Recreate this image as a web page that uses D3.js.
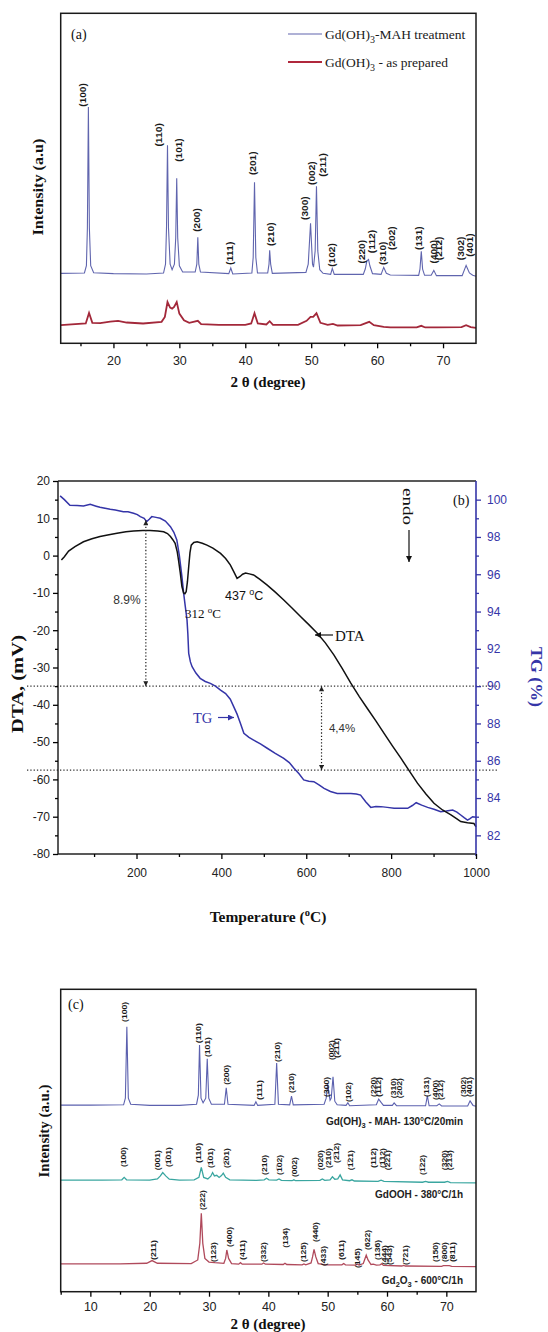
<!DOCTYPE html>
<html><head><meta charset="utf-8">
<script src="https://cdn.jsdelivr.net/npm/d3@7"></script>
<style>body{margin:0;background:#fff}svg{display:block}</style>
</head><body>
<svg id="c" width="548" height="1332"></svg>
<script>
// ---------------- DATA ----------------
// Panel (a): XRD, [2theta, intensity a.u.]
const xrdA_MAH = [[12,21.2],[15.6,21.3],[15.9,23.5],[16.05,35],[16.2,71.6],[16.35,35],[16.55,23.5],[17,21.4],[20,21.1],[25,21.0],[27.6,21.3],[27.9,24],[28.05,35],[28.2,60],[28.35,35],[28.6,24],[28.9,22.3],[29.25,24],[29.45,32],[29.6,50],[29.75,32],[30.0,23.5],[30.5,21.6],[32.4,21.6],[32.65,24],[32.8,32.1],[32.95,24],[33.2,21.6],[37.5,21.1],[37.8,22.8],[38.1,21.0],[41.0,21.3],[41.2,26],[41.4,48.8],[41.6,26],[41.85,21.3],[43.4,21.3],[43.6,24],[43.7,28.2],[43.85,24],[44.1,21.2],[49.2,21.5],[49.55,24],[49.9,36.4],[50.2,24],[50.35,23.1],[50.6,28],[50.8,47.6],[51.0,28],[51.3,22.3],[51.8,21.2],[52.95,20.9],[53.2,22.7],[53.5,20.9],[57.9,20.9],[58.2,22.5],[58.45,25.0],[58.7,25.4],[58.9,23.5],[59.3,21.1],[60.6,20.9],[61.0,23.0],[61.4,21.2],[62,20.7],[66.3,20.6],[66.5,22.5],[66.7,27.9],[66.9,22.5],[67.2,20.6],[68.2,20.6],[68.6,22.1],[69.0,20.5],[72.9,20.5],[73.5,23.6],[74.0,21.3],[74.5,20.6],[75,20.3]];
const xrdA_prep = [[12,5.5],[15.8,6.0],[16.3,9.2],[16.8,6.2],[18,6.1],[19.5,6.6],[20.7,6.8],[22,6.3],[24.5,6.0],[27.3,6.5],[27.8,8],[28.2,12.5],[28.6,10.8],[28.9,10.5],[29.2,11],[29.6,12.5],[30.0,9],[30.7,7.0],[31.5,6.2],[32.8,6.8],[33.3,5.8],[36,5.6],[40,5.6],[40.9,6.0],[41.4,9.1],[41.9,6],[43.2,5.7],[43.7,6.7],[44.2,5.6],[48,5.6],[49.3,6.8],[49.9,8.0],[50.3,8.0],[50.8,9.1],[51.4,6.2],[52.5,5.6],[53.3,5.9],[54,5.4],[57.5,5.5],[58.8,6.5],[59.5,5.5],[61,5.0],[62,4.8],[66,4.8],[66.7,5.3],[67.3,4.8],[69,4.8],[72.8,4.9],[73.5,5.5],[74.2,4.9],[75,4.7]];
const labelsA = [["(100)",15.38,71.7],["(110)",26.9,59.6],["(101)",29.92,55.0],["(200)",32.6,33.8],["(111)",37.65,23.7],["(201)",41.2,51.0],["(210)",43.81,29.5],["(300)",49.0,37.4],["(002)",50.03,48.0],["(211)",51.7,50.5],["(102)",53.15,23.2],["(220)",57.75,24.2],["(112)",59.23,27.3],["(310)",60.88,23.7],["(202)",62.3,28.3],["(131)",66.33,28.3],["(400)",68.56,24.2],["(212)",69.37,25.2],["(302)",72.76,25.2],["(401)",74.0,26.2]];
const ticksA_major = [20,30,40,50,60,70];
const ticksA_minor = [15,25,35,45,55,65];

// Panel (b): thermal analysis
const dtaT = [23,30,40,55,75,95,114,135,154,175,193,215,232,250,264,273,280,286,291,296,299,303,307,311,314,317,320,323,326,329,335,343,355,366,380,398,410,421,430,437,444,450,457,466,476,490,508,527,547,567,587,606,626,645,665,685,705,725,744,764,783,803,823,842,862,882,901,921,941,955,964,980,995,1000];
const dtaV = [-1.2,-0.3,1.2,2.4,3.7,4.5,5.1,5.6,6.0,6.4,6.6,6.7,6.7,6.6,6.4,5.9,5.1,4.2,3.3,1.0,-1.2,-4.5,-8.3,-10.0,-10.2,-9.7,-7,-3,0.8,2.8,3.5,3.7,3.3,2.8,2.0,0.6,-0.8,-2.5,-4.5,-6.1,-5.6,-5.0,-4.7,-4.9,-5.2,-6.3,-7.9,-9.8,-11.9,-14.1,-16.4,-18.5,-20.8,-23.4,-26.6,-30.3,-34.2,-37.8,-41.0,-44.3,-47.6,-51.0,-54.3,-57.6,-61.0,-63.9,-66.4,-68.2,-69.5,-70.6,-71.3,-71.6,-71.8,-72.7];
const tgT = [20,30,43,60,75,91,105,114,138,150,169,180,193,202,209,218,224,230,236,246,256,268,280,288,295,301,307,311,315,319,321,323,327,331,340,350,362,374,386,398,410,421,429,437,445,453,465,476,492,508,527,547,560,571,583,594,606,618,630,642,657,673,690,705,718,728,740,752,764,776,791,807,823,839,850,859,872,886,901,917,930,945,955,964,972,980,986,992,1000];
const tgV = [100.2,100.0,99.7,99.68,99.66,99.75,99.65,99.59,99.48,99.45,99.35,99.35,99.27,99.2,99.09,99.0,98.82,98.95,99.09,99.05,99.0,98.85,98.55,98.25,97.84,97.0,95.87,95.0,94.26,93.55,92.8,91.76,91.3,91.04,90.7,90.42,90.25,90.15,90.0,89.79,89.6,89.3,88.9,88.5,88.0,87.47,87.25,87.11,86.9,86.67,86.4,86.13,85.9,85.6,85.3,84.97,84.9,84.88,84.7,84.52,84.35,84.25,84.25,84.25,84.22,84.16,83.8,83.5,83.55,83.54,83.5,83.45,83.45,83.45,83.6,83.75,83.62,83.5,83.4,83.27,83.3,83.36,83.25,83.09,82.95,82.82,82.9,83.0,82.97];
const ticksB_x = [200,400,600,800,1000];
const ticksB_xminor = [100,300,500,700,900];
const ticksB_dta = [-80,-70,-60,-50,-40,-30,-20,-10,0,10,20];
const ticksB_dtaMinor = [-75,-65,-55,-45,-35,-25,-15,-5,5,15];
const ticksB_tg = [82,84,86,88,90,92,94,96,98,100];
const ticksB_tgMinor = [83,85,87,89,91,93,95,97,99];
const tgLevels = [90, 85.5];

// Panel (c): XRD of the three phases
const xrdC_MAH = [[5,61.7],[10,61.7],[15.6,61.8],[15.9,64],[16.15,87.6],[16.4,64],[16.8,62],[20,61.6],[25,61.6],[27.9,62],[28.2,65],[28.4,81.6],[28.65,64],[29.0,62.5],[29.45,64],[29.7,77.0],[29.95,64],[30.4,62],[32.6,62],[32.9,67.4],[33.2,62],[37.6,61.6],[37.9,62.8],[38.2,61.6],[41.1,62],[41.4,75.6],[41.7,62],[43.6,61.8],[43.9,64.7],[44.2,61.8],[49.4,62],[49.75,64],[50.0,68.7],[50.4,63.3],[50.6,64],[50.9,71.1],[51.2,63],[51.6,61.8],[53.1,61.6],[53.4,62.5],[53.7,61.5],[58.2,61.8],[58.6,63.7],[59.0,62.6],[59.4,61.6],[60.9,61.6],[61.2,62.4],[61.6,61.5],[66.5,61.5],[66.8,64.8],[67.1,61.5],[68.4,61.5],[68.8,62.1],[69.2,61.4],[73.6,61.4],[74.0,63.1],[74.5,61.6],[75,61.3]];
const xrdC_OOH = [[5,36.9],[12,36.9],[15.3,37.0],[15.7,37.8],[16.1,37.0],[20,36.9],[21.3,37.3],[21.8,38.3],[22.2,39.4],[22.7,38.3],[23.3,37.2],[25,36.9],[27.5,37.0],[28.3,37.8],[28.7,41.1],[29.1,37.8],[29.8,37.3],[30.3,38.2],[30.6,39.4],[30.9,38.3],[31.3,38.5],[31.7,37.8],[32.1,38.4],[32.4,39.2],[32.8,37.8],[33.5,37.0],[38,36.8],[39.3,37.0],[39.7,37.5],[40.1,37.0],[41.4,36.9],[41.8,37.3],[42.2,36.8],[44.0,36.7],[44.3,37.0],[44.6,36.7],[48.7,36.8],[49.1,37.3],[49.5,36.8],[50.4,37.0],[50.8,38.0],[51.2,37.2],[51.7,37.3],[52.1,38.6],[52.5,37.0],[53.7,36.7],[54.1,37.0],[54.5,36.6],[58.5,36.5],[59.0,36.9],[59.5,36.5],[66.0,36.2],[66.5,36.5],[67,36.2],[69.7,36.2],[70.2,36.5],[70.7,36.1],[75,36.0]];
const xrdC_O3 = [[5,9.2],[15,9.2],[19.5,9.4],[20.4,10.3],[21.3,9.4],[27,9.3],[28.1,10.5],[28.45,16],[28.7,25.9],[28.95,16],[29.3,11],[30,9.8],[31.0,9.6],[32.5,9.4],[32.8,11],[33.0,13.8],[33.3,11],[33.8,9.3],[35.0,9.1],[35.3,9.6],[35.6,9.1],[38.9,9.1],[39.2,9.5],[39.5,9.1],[42.5,9.0],[42.8,9.4],[43.1,9.0],[45.7,8.9],[46.0,9.2],[46.3,8.9],[47.2,9.5],[47.45,11.5],[47.7,14.0],[48.0,11.5],[48.4,9.3],[49.0,9.1],[49.5,8.9],[52.4,8.9],[52.7,9.3],[53.0,8.9],[54.7,8.8],[55.0,9.1],[55.3,8.8],[56.0,9.3],[56.3,11],[56.5,12.1],[56.8,10.5],[57.3,9.0],[57.7,9.1],[58.2,8.8],[58.8,8.9],[59.1,9.2],[59.4,8.7],[62.5,8.5],[62.8,8.7],[63.1,8.5],[69.2,8.4],[69.5,8.6],[70.5,8.6],[70.9,8.4],[75,8.3]];
const labelsC_MAH = [["(100)",15.69,89.2],["(110)",28.24,82.2],["(101)",29.76,77.6],["(200)",32.92,68.4],["(111)",38.55,63.4],["(210)",41.49,76.0],["(210)",43.9,65.7],["(300)",49.81,64.4],["(002)",50.66,76.6],["(211)",51.5,77.3],["(102)",53.48,62.7],["(220)",57.75,64.4],["(112)",58.6,64.4],["(310)",61.08,64.0],["(202)",62.03,64.0],["(131)",66.71,64.4],["(400)",68.23,63.4],["(212)",69.07,63.4],["(302)",72.91,64.4],["(401)",73.85,64.4]];
const labelsC_OOH = [["(100)",15.57,41.2],["(001)",21.27,40.2],["(1\u030501)",23.13,41.2],["(110)",28.19,42.6],["(1\u030501)",30.22,40.9],["(2\u030501)",32.92,40.9],["(210)",39.34,38.6],["(1\u030502)",41.93,38.6],["(002)",44.41,37.9],["(020)",48.8,40.2],["(210)",50.15,40.9],["(2\u030512)",51.5,42.6],["(1\u030521)",53.87,40.2],["(112)",57.75,40.9],["(1\u030512)",59.22,40.9],["(2\u030521)",60.07,40.2],["(1\u030522)",65.98,38.6],["(320)",69.63,40.2],["(2\u030513)",70.47,40.2]];
const labelsC_O3 = [["(211)",20.54,10.5],["(222)",28.82,27.0],["(123)",30.78,9.8],["(400)",33.48,14.8],["(411)",35.68,10.5],["(332)",39.22,9.8],["(134)",42.89,14.5],["(125)",45.98,9.8],["(440)",47.96,16.4],["(433)",49.26,8.5],["(611)",52.3,10.5],["(145)",55.0,7.8],["(622)",56.69,13.8],["(136)",58.38,10.5],["(444)",59.49,8.8],["(543)",60.34,8.8],["(721)",63.16,8.8],["(150)",68.23,9.8],["(800)",69.63,9.8],["(811)",71.05,9.8]];
const ticksC_major = [10,20,30,40,50,60,70];
const ticksC_minor = [5,15,25,35,45,55,65];

// ---------------- DRAWING ----------------
const SANS = "'Liberation Sans', Arial, sans-serif";
const SERIF = "'Liberation Serif', 'Times New Roman', serif";
const svg = d3.select("#c");
const BLUE_TG = "#3535a8";

function axis(g, gen, tx, ty, vals, size, pad, fmt, color, fs) {
  const a = g.append("g").attr("transform", `translate(${tx},${ty})`)
    .call(gen.tickValues(vals).tickSize(size).tickPadding(pad).tickFormat(fmt));
  a.select(".domain").remove();
  a.attr("font-family", SANS).attr("font-size", fs || 12);
  a.selectAll("line").attr("stroke", color).attr("stroke-width", 1.3);
  a.selectAll("text").attr("fill", color === "#000" ? "#222" : color);
  return a;
}
function frame(g, b) {
  g.append("rect").attr("x", b.l).attr("y", b.t).attr("width", b.r - b.l).attr("height", b.b - b.t)
    .attr("fill", "none").attr("stroke", "#1a1a1a").attr("stroke-width", 1.5);
}
function peakLabels(g, arr, x, y, fs, len) {
  g.selectAll(null).data(arr).join("text")
    .attr("transform", d => `translate(${x(d[1])},${y(d[2])}) rotate(-90)`)
    .attr("dy", "0.35em").attr("font-family", SANS).attr("font-weight", "bold")
    .attr("font-size", fs).attr("fill", "#1a1a1a")
    .attr("textLength", len).attr("lengthAdjust", "spacingAndGlyphs")
    .text(d => d[0]);
}
function vtext(g, txt, cx, cy, rot, fs, len, color, fam) {
  return g.append("text").attr("transform", `translate(${cx},${cy}) rotate(${rot})`)
    .attr("text-anchor", "middle").attr("dy", "0.35em")
    .attr("font-family", fam || SERIF).attr("font-weight", "bold").attr("font-size", fs)
    .attr("fill", color || "#111").attr("textLength", len).attr("lengthAdjust", "spacingAndGlyphs")
    .text(txt);
}
const defs = svg.append("defs");
function marker(id, color, w, h) {
  defs.append("marker").attr("id", id).attr("viewBox", "0 0 10 10").attr("refX", 10).attr("refY", 5)
    .attr("markerWidth", w).attr("markerHeight", h).attr("orient", "auto-start-reverse")
    .attr("markerUnits", "userSpaceOnUse")
    .append("path").attr("d", "M0,0L10,5L0,10Z").attr("fill", color);
}
marker("ah", "#111", 8, 6);
marker("ahb", BLUE_TG, 8, 6);
marker("ahs", "#222", 6, 5);

// ===== Panel (a) =====
{
  const B = {l: 60.7, r: 476, t: 13.3, b: 343.3};
  const g = svg.append("g");
  const x = d3.scaleLinear([12, 75], [B.l, B.r]);
  const y = d3.scaleLinear([0, 100], [B.b, B.t]);
  const line = d3.line().x(d => x(d[0])).y(d => y(d[1]));
  g.append("path").datum(xrdA_prep).attr("d", line).attr("fill", "none").attr("stroke", "#a3283a").attr("stroke-width", 1.8);
  g.append("path").datum(xrdA_MAH).attr("d", line).attr("fill", "none").attr("stroke", "#6065ae").attr("stroke-width", 1.1);
  peakLabels(g, labelsA, x, y, 9, 23.5);
  frame(g, B);
  axis(g, d3.axisBottom(x), 0, B.b, ticksA_minor, 3, 0, "", "#000");
  axis(g, d3.axisBottom(x), 0, B.b, ticksA_major, 5, 8, d => String(d), "#000", 12.5);
  g.append("text").attr("x", 268).attr("y", 387).attr("text-anchor", "middle")
    .attr("font-family", SERIF).attr("font-weight", "bold").attr("font-size", 15).attr("fill", "#111").text("2 θ (degree)");
  vtext(g, "Intensity (a.u)", 37.5, 187, -90, 15.5, 97);
  g.append("text").attr("x", 71).attr("y", 38.5).attr("font-family", SERIF).attr("font-size", 14).attr("fill", "#111").text("(a)");
  // legend
  const leg = [["#6065ae", 1.1, "-MAH treatment", 34], ["#b0283c", 2.2, " - as prepared", 62]];
  leg.forEach(([c, w, tail, ly]) => {
    g.append("line").attr("x1", 288).attr("x2", 322).attr("y1", ly).attr("y2", ly).attr("stroke", c).attr("stroke-width", w);
    const t = g.append("text").attr("x", 325).attr("y", ly + 4.5).attr("font-family", SERIF).attr("font-size", 13.5).attr("fill", "#1a1a1a");
    t.append("tspan").text("Gd(OH)");
    t.append("tspan").attr("font-size", 10).attr("dy", 4).text("3");
    t.append("tspan").attr("dy", -4).text(tail);
  });
}

// ===== Panel (b) =====
{
  const B = {l: 58, r: 476, t: 481, b: 854};
  const g = svg.append("g");
  const x = d3.scaleLinear([15, 1000], [B.l, B.r]);
  const yL = d3.scaleLinear([-80, 20], [B.b, B.t]);
  const yR = d3.scaleLinear([81, 101], [B.b, B.t]);
  const dta = d3.zip(dtaT, dtaV), tg = d3.zip(tgT, tgV);
  tgLevels.forEach(v => g.append("line").attr("x1", 27).attr("x2", 497).attr("y1", yR(v)).attr("y2", yR(v))
    .attr("stroke", "#333").attr("stroke-width", 1.3).attr("stroke-dasharray", "1.3,2"));
  g.append("path").datum(tg).attr("d", d3.line().x(d => x(d[0])).y(d => yR(d[1])))
    .attr("fill", "none").attr("stroke", BLUE_TG).attr("stroke-width", 1.5);
  g.append("path").datum(dta).attr("d", d3.line().x(d => x(d[0])).y(d => yL(d[1])))
    .attr("fill", "none").attr("stroke", "#111").attr("stroke-width", 1.5);
  g.append("line").attr("x1", B.l).attr("x2", B.r).attr("y1", B.t).attr("y2", B.t).attr("stroke", "#222").attr("stroke-width", 1.5);
  g.append("line").attr("x1", B.l).attr("x2", B.r).attr("y1", B.b).attr("y2", B.b).attr("stroke", "#222").attr("stroke-width", 1.5);
  g.append("line").attr("x1", B.l).attr("x2", B.l).attr("y1", B.t).attr("y2", B.b).attr("stroke", "#222").attr("stroke-width", 1.5);
  g.append("line").attr("x1", B.r).attr("x2", B.r).attr("y1", B.t).attr("y2", B.b + 2).attr("stroke", BLUE_TG).attr("stroke-width", 1.6);
  axis(g, d3.axisBottom(x), 0, B.b, ticksB_xminor, 3, 0, "", "#000");
  axis(g, d3.axisBottom(x), 0, B.b, ticksB_x, 5, 9.5, d => String(d), "#000", 12);
  axis(g, d3.axisLeft(yL), B.l, 0, ticksB_dtaMinor, 3, 0, "", "#000");
  axis(g, d3.axisLeft(yL), B.l, 0, ticksB_dta, 5, 3, d => String(d), "#000", 12);
  axis(g, d3.axisRight(yR), B.r, 0, ticksB_tgMinor, 3, 0, "", BLUE_TG);
  axis(g, d3.axisRight(yR), B.r, 0, ticksB_tg, 5, 6, d => String(d), BLUE_TG, 12);
  const tt = g.append("text").attr("x", 268).attr("y", 922).attr("text-anchor", "middle")
    .attr("font-family", SERIF).attr("font-weight", "bold").attr("font-size", 15.5).attr("fill", "#111");
  tt.append("tspan").text("Temperature (");
  tt.append("tspan").attr("font-size", 10.5).attr("dy", -6).text("o");
  tt.append("tspan").attr("dy", 6).text("C)");
  vtext(g, "DTA, (mV)", 17, 684, -90, 17, 98);
  vtext(g, "TG (%)", 537, 677, 90, 17, 60, BLUE_TG);
  g.append("text").attr("x", 453).attr("y", 505).attr("font-family", SERIF).attr("font-size", 14).attr("fill", "#111").text("(b)");
  g.append("text").attr("transform", "translate(408,488) rotate(90)").attr("dy", "0.35em")
    .attr("font-family", SERIF).attr("font-size", 15).attr("fill", "#111")
    .attr("textLength", 37).attr("lengthAdjust", "spacingAndGlyphs").text("endo");
  g.append("line").attr("x1", 409).attr("x2", 409).attr("y1", 530).attr("y2", 562).attr("stroke", "#111").attr("stroke-width", 1.2).attr("marker-end", "url(#ah)");
  const arrows = [[222, 98.9, 90], [636, 90, 85.5]];
  arrows.forEach(([t, a, b]) => g.append("line").attr("x1", x(t)).attr("x2", x(t)).attr("y1", yR(a)).attr("y2", yR(b))
    .attr("stroke", "#222").attr("stroke-width", 1.2).attr("stroke-dasharray", "1.3,2")
    .attr("marker-start", "url(#ahs)").attr("marker-end", "url(#ahs)"));
  g.append("text").attr("x", 127).attr("y", 604).attr("text-anchor", "middle").attr("font-family", SANS).attr("font-size", 12).attr("fill", "#333").text("8.9%");
  g.append("text").attr("x", 342).attr("y", 732).attr("text-anchor", "middle").attr("font-family", SANS).attr("font-size", 11.5).attr("fill", "#333").text("4,4%");
  const t312 = g.append("text").attr("x", 185).attr("y", 618).attr("font-family", SERIF).attr("font-size", 13).attr("fill", "#111");
  t312.append("tspan").text("312 ");
  t312.append("tspan").attr("font-size", 9).attr("dy", -5).text("o");
  t312.append("tspan").attr("dy", 5).text("C");
  const t437 = g.append("text").attr("x", 225).attr("y", 600).attr("font-family", SANS).attr("font-size", 12.5).attr("fill", "#111");
  t437.append("tspan").text("437 ");
  t437.append("tspan").attr("font-size", 9).attr("dy", -5).text("o");
  t437.append("tspan").attr("dy", 5).text("C");
  g.append("line").attr("x1", 333).attr("x2", 315).attr("y1", 635).attr("y2", 635).attr("stroke", "#111").attr("stroke-width", 1.2).attr("marker-end", "url(#ah)");
  g.append("text").attr("x", 335).attr("y", 641).attr("font-family", SERIF).attr("font-size", 15).attr("fill", "#111").text("DTA");
  g.append("text").attr("x", 193).attr("y", 723).attr("font-family", SERIF).attr("font-size", 14.5).attr("fill", BLUE_TG).text("TG");
  g.append("line").attr("x1", 218).attr("x2", 234).attr("y1", 717.5).attr("y2", 717.5).attr("stroke", BLUE_TG).attr("stroke-width", 1.2).attr("marker-end", "url(#ahb)");
}

// ===== Panel (c) =====
{
  const B = {l: 60.7, r: 476, t: 989.3, b: 1291.7};
  const g = svg.append("g");
  const x = d3.scaleLinear([5, 75], [B.l, B.r]);
  const y = d3.scaleLinear([0, 100], [B.b, B.t]);
  const line = d3.line().x(d => x(d[0])).y(d => y(d[1]));
  g.append("path").datum(xrdC_O3).attr("d", line).attr("fill", "none").attr("stroke", "#b04a5c").attr("stroke-width", 1.3);
  g.append("path").datum(xrdC_OOH).attr("d", line).attr("fill", "none").attr("stroke", "#3aa6a0").attr("stroke-width", 1.3);
  g.append("path").datum(xrdC_MAH).attr("d", line).attr("fill", "none").attr("stroke", "#5b60ae").attr("stroke-width", 1.1);
  peakLabels(g, labelsC_MAH, x, y, 7.5, 20);
  peakLabels(g, labelsC_OOH, x, y, 7.5, 20);
  peakLabels(g, labelsC_O3, x, y, 7.5, 20);
  frame(g, B);
  axis(g, d3.axisBottom(x), 0, B.b, ticksC_minor, 3, 0, "", "#000");
  axis(g, d3.axisBottom(x), 0, B.b, ticksC_major, 5, 5.7, d => String(d), "#000", 12.5);
  g.append("text").attr("x", 268).attr("y", 1329).attr("text-anchor", "middle")
    .attr("font-family", SERIF).attr("font-weight", "bold").attr("font-size", 15).attr("fill", "#111").text("2 θ  (degree)");
  vtext(g, "Intensity (a.u.)", 44, 1131, -90, 15.5, 93);
  g.append("text").attr("x", 68).attr("y", 1009).attr("font-family", SERIF).attr("font-size", 14).attr("fill", "#111").text("(c)");
  const names = [["Gd(OH)", "3", " - MAH- 130°C/20min", 1125], ["GdOOH - 380°C/1h", "", "", 1198], ["Gd", "2", "O", 1284]];
  names.forEach(([a, s, b, by], i) => {
    const t = g.append("text").attr("x", 463).attr("y", by).attr("text-anchor", "end")
      .attr("font-family", SANS).attr("font-weight", "bold").attr("font-size", 10).attr("fill", "#222");
    t.append("tspan").text(a);
    if (s) { t.append("tspan").attr("font-size", 7.5).attr("dy", 3).text(s); t.append("tspan").attr("dy", -3).text(b); }
    if (i === 2) { t.append("tspan").attr("font-size", 7.5).attr("dy", 3).text("3"); t.append("tspan").attr("dy", -3).text(" - 600°C/1h"); }
  });
}
</script>
</body></html>
